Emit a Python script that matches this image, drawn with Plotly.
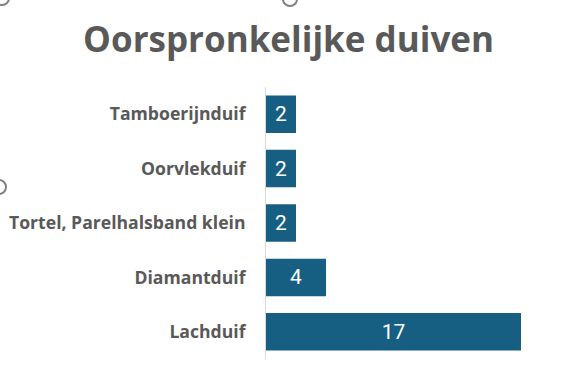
import plotly.graph_objects as go

categories = ["Lachduif", "Diamantduif", "Tortel, Parelhalsband klein", "Oorvlekduif", "Tamboerijnduif"]
values = [17, 4, 2, 2, 2]
title_text = "Oorspronkelijke duiven"

W, H = 568, 368
ML, MR, MT, MB = 266, 20, 87, 9

fig = go.Figure(go.Bar(
    y=categories, x=values, orientation="h",
    marker=dict(color="#175F82", line=dict(width=0)),
    text=[str(v) for v in values], textposition="inside", insidetextanchor="middle",
    textfont=dict(color="white", size=21, family="Roboto"),
    constraintext="none", textangle=0,
    cliponaxis=False,
))

fig.update_layout(
    width=W, height=H,
    margin=dict(l=ML, r=MR, t=MT, b=MB),
    paper_bgcolor="white", plot_bgcolor="white",
    bargap=0.31,
    showlegend=False,
    title=dict(text="<b>" + title_text + "</b>", x=0.508, xanchor="center", y=0.892, yanchor="middle",
               font=dict(family="Open Sans", size=35, color="#595959")),
    xaxis=dict(range=[0, (W - ML - MR) / 15.0], visible=False),
    yaxis=dict(showline=True, linecolor="#D9D9D9", linewidth=1, ticks="", showgrid=False,
               tickfont=dict(family="Open Sans", size=17.6, color="#595959", weight="bold"),
               ticklabelstandoff=16, automargin=False),
)

# Excel selection handles visible in the reference
pw, ph = W - ML - MR, H - MT - MB
def px(x):
    return (x - ML) / pw
def py(y):
    return (H - MB - y) / ph
for cx, cy in [(2, -2), (290, -1), (-1, 187)]:
    r = 7
    fig.add_shape(type="circle", xref="paper", yref="paper",
                  x0=px(cx - r), x1=px(cx + r), y0=py(cy + r), y1=py(cy - r),
                  line=dict(color="#808080", width=2), fillcolor="white", layer="above")

fig.write_html("out.html", config={"displayModeBar": False},
               post_script="document.body.style.margin='0';document.body.style.overflow='hidden';")
